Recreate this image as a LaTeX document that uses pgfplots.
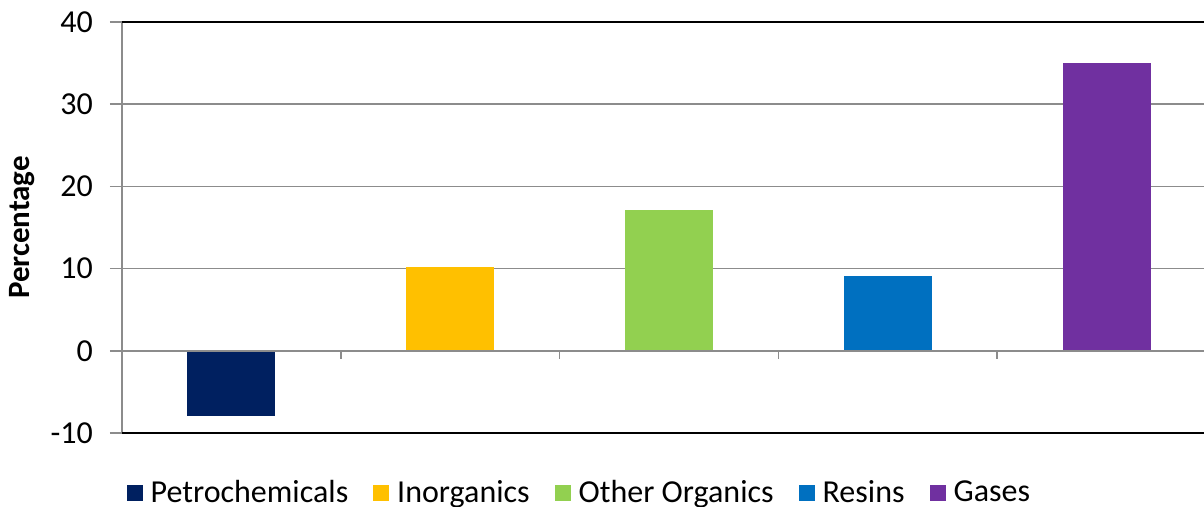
\documentclass[border=0pt]{standalone}
\usepackage{pgfplots}
\pgfplotsset{compat=1.18}
\usepackage{fontspec}
\setmainfont{Carlito}
\definecolor{cPet}{HTML}{002060}
\definecolor{cInorg}{HTML}{FFC000}
\definecolor{cOther}{HTML}{92D050}
\definecolor{cRes}{HTML}{0070C0}
\definecolor{cGas}{HTML}{7030A0}
\definecolor{gridc}{HTML}{8C8C8C}
\begin{document}
\begin{tikzpicture}
\begin{axis}[
  at={(0,0)}, anchor=south west,
  scale only axis,
  width=547pt, height=205.5pt,
  xmin=-0.5, xmax=4.5,
  ymin=-10, ymax=40,
  ytick={-10,0,10,20,30,40},
  xtick=\empty,
  ymajorgrids,
  grid style={draw=gridc, line width=0.75pt},
  axis line style={draw=none},
  tick align=outside,
  major tick length=6pt,
  y tick style={draw=gridc, line width=0.75pt},
  ytick pos=left,
  yticklabel style={font=\fontsize{16}{18}\selectfont, xshift=-5pt},
  /pgf/number format/assume math mode=true,
  ylabel={\bfseries Percentage},
  ylabel style={font=\fontsize{15.5}{18}\selectfont, at={(axis description cs:-0.0914,0.5)}, anchor=center},
  ybar, bar width=44pt, bar shift=0pt,
  clip=false,
  legend style={at={(axis description cs:0.419,-0.146)}, anchor=center, draw=none,
    font=\fontsize{16}{18}\selectfont, legend columns=-1,
    /tikz/every odd column/.append style={column sep=2pt},
    /tikz/every even column/.append style={column sep=10.5pt}},
  legend image code/.code={\fill[#1] (0pt,-4pt) rectangle (8pt,4pt);},
]
\addplot[fill=cPet, draw=none] coordinates {(0,-7.9)};
\addplot[fill=cInorg, draw=none] coordinates {(1,10.2)};
\addplot[fill=cOther, draw=none] coordinates {(2,17.1)};
\addplot[fill=cRes, draw=none] coordinates {(3,9.1)};
\addplot[fill=cGas, draw=none] coordinates {(4,35.0)};
\legend{Petrochemicals,Inorganics,Other Organics,Resins,Gases}
\draw[gridc, line width=0.75pt] (axis cs:-0.5,0) -- (axis cs:4.5,0);
\pgfplotsinvokeforeach{0.5,1.5,2.5,3.5}{\draw[gridc, line width=0.75pt] (axis cs:#1,0) -- ([yshift=-4pt]axis cs:#1,0);}
\draw[gridc, line width=0.75pt] (rel axis cs:0,0) -- (rel axis cs:0,1);
\draw[black, line width=1pt] (rel axis cs:0,1) -- (rel axis cs:1,1);
\draw[black, line width=1pt] (rel axis cs:0,0) -- (rel axis cs:1,0);
\end{axis}
\pgfresetboundingbox
\path (-61pt,-37pt) rectangle (541pt,216.5pt);
\end{tikzpicture}
\end{document}
